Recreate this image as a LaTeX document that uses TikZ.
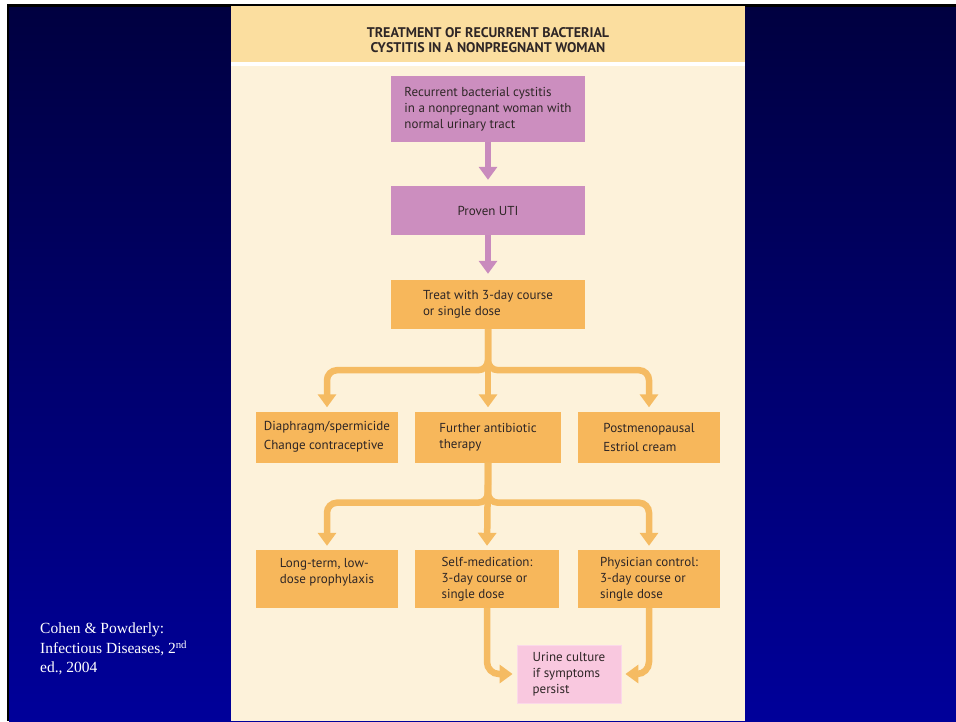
\documentclass[tikz,border=0pt]{standalone}
\usepackage{fontspec}
\setmainfont{Liberation Serif}
\newfontfamily\boxfont{PT Sans}
\usetikzlibrary{arrows.meta}
\definecolor{bgtop}{HTML}{000040}
\definecolor{bgbot}{HTML}{00009A}
\definecolor{cream}{HTML}{FDF2DA}
\definecolor{header}{HTML}{FBDE9F}
\definecolor{purpbox}{HTML}{CC8EBF}
\definecolor{purparrow}{HTML}{C98BBD}
\definecolor{orbox}{HTML}{F7B75B}
\definecolor{orarrow}{HTML}{F5BB62}
\definecolor{pinkbox}{HTML}{F9C8DF}
\definecolor{txt}{HTML}{2E2626}
\begin{document}
\begin{tikzpicture}[x=1pt,y=-1pt,
  boxtext/.style={font=\boxfont\fontsize{13}{16}\selectfont, text=txt, align=left, inner sep=0pt},
  pbox/.style={boxtext, fill=purpbox, minimum width=194pt},
  obox/.style={boxtext, fill=orbox},
  ubox/.style={boxtext, fill=pinkbox, draw=pinkbox!70!white, line width=0.8pt, minimum width=104pt, minimum height=58pt},
  parrow/.style={draw=purparrow, line width=6.5pt, -{Triangle[width=18pt,length=13pt]}, shorten >=6pt},
  oarrow/.style={draw=orarrow, line width=6.5pt, -{Triangle[width=18pt,length=13pt]}, shorten >=4pt, rounded corners=10pt}
]
\useasboundingbox (0,0) rectangle (956,721);
\fill[white] (0,0) rectangle (956,721);
\shade[top color=bgtop, bottom color=bgbot] (9,7) rectangle (956,721);
\fill[black] (7,4) rectangle (956,7);
\fill[black] (7,4) rectangle (9,721);
% panel
\fill[cream] (231,6) rectangle (745,721);
\fill[header] (231,6) rectangle (745,62);
\fill[white] (231,62) rectangle (745,66);
\node[font=\boxfont\bfseries\fontsize{14}{15}\selectfont, text=txt, align=center] (title) at (488,40)
  {TREATMENT OF RECURRENT BACTERIAL\\CYSTITIS IN A NONPREGNANT WOMAN};
% boxes
\node[pbox, minimum height=66pt] (b1) at (488,109) {Recurrent bacterial cystitis\\in a nonpregnant woman with\\normal urinary tract};
\node[pbox, minimum height=49pt] (b2) at (488,210.5) {Proven UTI};
\node[obox, minimum width=194pt, minimum height=49pt] (b3) at (488,304.5) {Treat with 3-day course\\or single dose};
\node[obox, minimum width=142pt, minimum height=51pt] (nA) at (327,437) {Diaphragm/spermicide\\[3pt]Change contraceptive};
\node[obox, minimum width=146pt, minimum height=51pt] (nB) at (488,437) {Further antibiotic\\therapy};
\node[obox, minimum width=142pt, minimum height=51pt] (nC) at (649,437) {Postmenopausal\\[3pt]Estriol cream};
\node[obox, minimum width=142pt, minimum height=58pt] (nD) at (327,579) {Long-term, low-\\dose prophylaxis\\\mbox{}};
\node[obox, minimum width=144pt, minimum height=58pt] (nE) at (487,579) {Self-medication:\\3-day course or\\single dose};
\node[obox, minimum width=142pt, minimum height=58pt] (nF) at (649,579) {Physician control:\\3-day course or\\single dose};
\node[ubox] (u) at (569,674) {Urine culture\\if symptoms\\persist};
% connectors
\draw[parrow] (b1.south) -- (b2.north);
\draw[parrow] (b2.south) -- (b3.north);
\draw[oarrow] (b3.south) -- ++(0,41) -| (nA.north);
\draw[oarrow] (b3.south) -- ++(0,41) -| (nC.north);
\draw[oarrow] (b3.south) -- (nB.north);
\draw[oarrow] (nB.south) -- ++(0,40) -| (nD.north);
\draw[oarrow] (nB.south) -- ++(0,40) -| (nF.north);
\draw[oarrow] (nB.south) -- (nE.north);
\draw[oarrow, rounded corners=12pt] (nE.south) |- (u.west);
\draw[oarrow, rounded corners=12pt] (nF.south) |- (u.east);
% citation
\node[anchor=north west, text=white, align=left, inner sep=0pt,
  font=\fontsize{15.5}{19.5}\selectfont] (cite) at (40,623)
  {Cohen \& Powderly:\\Infectious Diseases, 2\textsuperscript{nd}\\ed., 2004};
\end{tikzpicture}
\end{document}
